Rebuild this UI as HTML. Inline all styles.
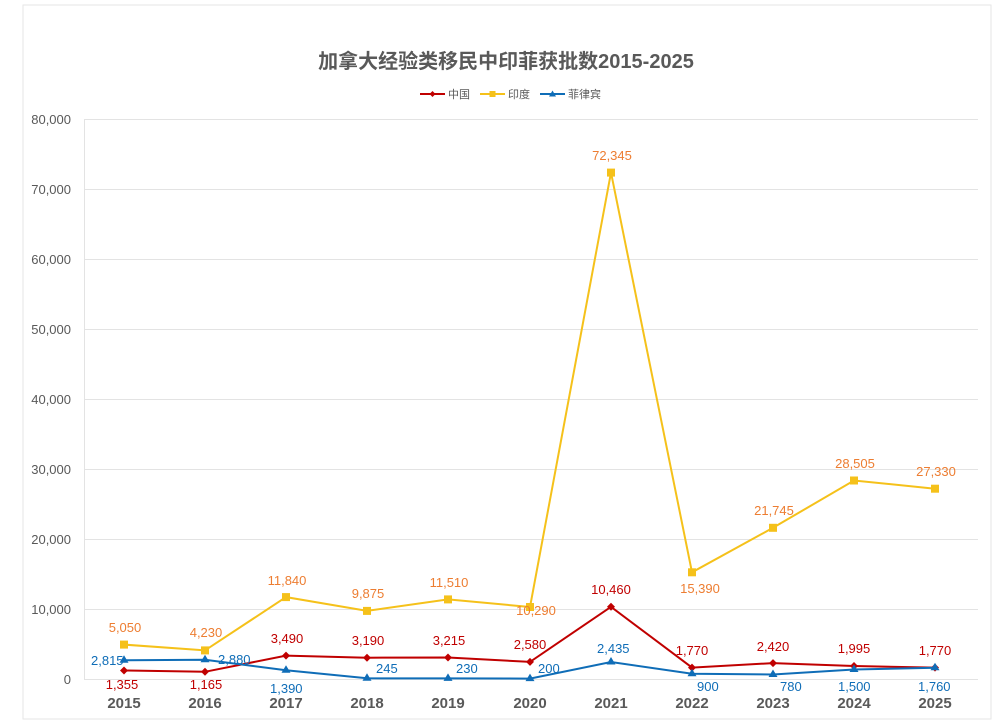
<!DOCTYPE html><html><head><meta charset="utf-8"><style>body{margin:0;background:#fff}svg{display:block}text{font-family:"Liberation Sans","Noto Sans CJK SC",sans-serif}</style></head><body>
<svg width="992" height="726" xmlns="http://www.w3.org/2000/svg">
<rect x="23" y="5" width="968" height="714" fill="#fff" stroke="#e6e6e6"/>
<text x="506" y="68" font-size="20" font-weight="bold" fill="#595959" text-anchor="middle" font-family="Liberation Sans,Noto Sans CJK SC,sans-serif">加拿大经验类移民中印菲获批数2015-2025</text>
<g font-size="11" fill="#595959">
<line x1="420" y1="94" x2="445" y2="94" stroke="#c00000" stroke-width="2"/><path d="M432.5 91l3 3-3 3-3-3z" fill="#c00000"/><text x="448" y="98">中国</text>
<line x1="480" y1="94" x2="505" y2="94" stroke="#f5c11a" stroke-width="2"/><rect x="489.5" y="91" width="6" height="6" fill="#f5c11a"/><text x="508" y="98">印度</text>
<line x1="540" y1="94" x2="565" y2="94" stroke="#0f6db7" stroke-width="2"/><path d="M552.5 90.5l3.5 6h-7z" fill="#0f6db7"/><text x="568" y="98">菲律宾</text>
</g>
<g stroke="#e3e3e3" stroke-width="1">
<line x1="84" y1="119.5" x2="978" y2="119.5"/><line x1="84" y1="189.5" x2="978" y2="189.5"/><line x1="84" y1="259.5" x2="978" y2="259.5"/><line x1="84" y1="329.5" x2="978" y2="329.5"/><line x1="84" y1="399.5" x2="978" y2="399.5"/><line x1="84" y1="469.5" x2="978" y2="469.5"/><line x1="84" y1="539.5" x2="978" y2="539.5"/><line x1="84" y1="609.5" x2="978" y2="609.5"/><line x1="84" y1="679.5" x2="978" y2="679.5"/>
<line x1="84.5" y1="119" x2="84.5" y2="680"/>
</g>
<g font-size="13" fill="#595959" text-anchor="end">
<text x="71" y="124">80,000</text><text x="71" y="194">70,000</text><text x="71" y="264">60,000</text><text x="71" y="334">50,000</text><text x="71" y="404">40,000</text><text x="71" y="474">30,000</text><text x="71" y="544">20,000</text><text x="71" y="614">10,000</text><text x="71" y="684">0</text>
</g>
<g font-size="15" font-weight="bold" fill="#595959" text-anchor="middle">
<text x="124" y="708">2015</text><text x="205" y="708">2016</text><text x="286" y="708">2017</text><text x="367" y="708">2018</text><text x="448" y="708">2019</text><text x="530" y="708">2020</text><text x="611" y="708">2021</text><text x="692" y="708">2022</text><text x="773" y="708">2023</text><text x="854" y="708">2024</text><text x="935" y="708">2025</text>
</g>
<polyline fill="none" stroke="#f5c11a" stroke-width="2" points="124,644.6 205,650.4 286,597.1 367,610.9 448,599.4 530,607.0 611,172.6 692,572.3 773,527.8 854,480.5 935,488.7"/>
<g fill="#f5c11a">
<rect x="120" y="640.6" width="8" height="8"/><rect x="201" y="646.4" width="8" height="8"/><rect x="282" y="593.1" width="8" height="8"/><rect x="363" y="606.9" width="8" height="8"/><rect x="444" y="595.4" width="8" height="8"/><rect x="526" y="603" width="8" height="8"/><rect x="607" y="168.6" width="8" height="8"/><rect x="688" y="568.3" width="8" height="8"/><rect x="769" y="523.8" width="8" height="8"/><rect x="850" y="476.5" width="8" height="8"/><rect x="931" y="484.7" width="8" height="8"/>
</g>
<polyline fill="none" stroke="#c00000" stroke-width="2" points="124,670.5 205,671.8 286,655.6 367,657.7 448,657.5 530,661.9 611,606.8 692,667.6 773,663.1 854,666.0 935,667.6"/>
<g fill="#c00000">
<path d="M124 666.5l4 4-4 4-4-4z"/><path d="M205 667.8l4 4-4 4-4-4z"/><path d="M286 651.6l4 4-4 4-4-4z"/><path d="M367 653.7l4 4-4 4-4-4z"/><path d="M448 653.5l4 4-4 4-4-4z"/><path d="M530 657.9l4 4-4 4-4-4z"/><path d="M611 602.8l4 4-4 4-4-4z"/><path d="M692 663.6l4 4-4 4-4-4z"/><path d="M773 659.1l4 4-4 4-4-4z"/><path d="M854 662l4 4-4 4-4-4z"/><path d="M935 663.6l4 4-4 4-4-4z"/>
</g>
<polyline fill="none" stroke="#0f6db7" stroke-width="2" points="124,660.3 205,659.8 286,670.3 367,678.3 448,678.4 530,678.6 611,662.0 692,673.7 773,674.5 854,669.5 935,667.7"/>
<g fill="#0f6db7">
<path d="M124 655.3l4.5 7.5h-9z"/><path d="M205 654.8l4.5 7.5h-9z"/><path d="M286 665.3l4.5 7.5h-9z"/><path d="M367 673.3l4.5 7.5h-9z"/><path d="M448 673.4l4.5 7.5h-9z"/><path d="M530 673.6l4.5 7.5h-9z"/><path d="M611 657l4.5 7.5h-9z"/><path d="M692 668.7l4.5 7.5h-9z"/><path d="M773 669.5l4.5 7.5h-9z"/><path d="M854 664.5l4.5 7.5h-9z"/><path d="M935 662.7l4.5 7.5h-9z"/>
</g>
<g font-size="13" fill="#ed7d31" text-anchor="middle">
<text x="125" y="632">5,050</text><text x="206" y="637">4,230</text><text x="287" y="585">11,840</text><text x="368" y="598">9,875</text><text x="449" y="587">11,510</text><text x="536" y="615">10,290</text><text x="612" y="160">72,345</text><text x="700" y="593">15,390</text><text x="774" y="515">21,745</text><text x="855" y="468">28,505</text><text x="936" y="476">27,330</text>
</g>
<g font-size="13" fill="#c00000" text-anchor="middle">
<text x="122" y="689">1,355</text><text x="206" y="689">1,165</text><text x="287" y="643">3,490</text><text x="368" y="645">3,190</text><text x="449" y="645">3,215</text><text x="530" y="649">2,580</text><text x="611" y="594">10,460</text><text x="692" y="655">1,770</text><text x="773" y="651">2,420</text><text x="854" y="653">1,995</text><text x="935" y="655">1,770</text>
</g>
<g font-size="13" fill="#0f6db7">
<text x="91" y="665">2,815</text><text x="218" y="664">2,880</text><text x="270" y="693">1,390</text><text x="376" y="673">245</text><text x="456" y="673">230</text><text x="538" y="673">200</text><text x="597" y="653">2,435</text><text x="697" y="691">900</text><text x="780" y="691">780</text><text x="838" y="691">1,500</text><text x="918" y="691">1,760</text>
</g>
</svg></body></html>
